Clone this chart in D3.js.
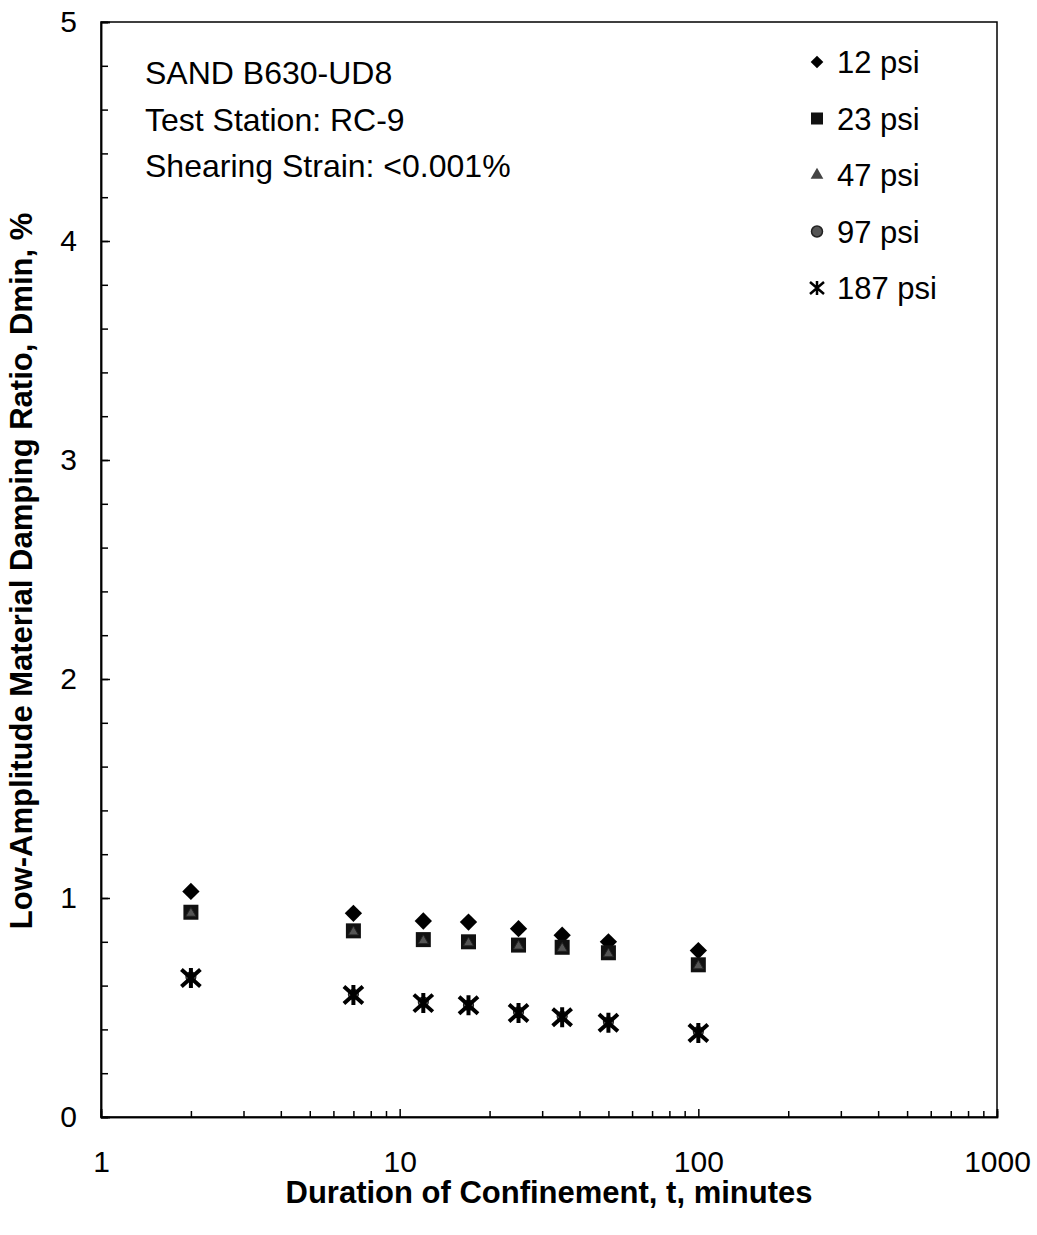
<!DOCTYPE html>
<html>
<head>
<meta charset="utf-8">
<script src="https://cdn.jsdelivr.net/npm/d3@7"></script>
<style>
  body { margin: 0; background: #fff; }
  svg { font-family: "Liberation Sans", Arial, sans-serif; }
</style>
</head>
<body>
<script>
// data
var durations = [2, 7, 12, 17, 25, 35, 50, 100];
var psi12  = [1.03, 0.93, 0.895, 0.89, 0.86, 0.83, 0.80, 0.76];
var psi23  = [0.935, 0.85, 0.81, 0.80, 0.785, 0.775, 0.75, 0.695];
var psi47  = [0.93, 0.845, 0.805, 0.795, 0.78, 0.77, 0.745, 0.69];
var psi97  = [0.64, 0.56, 0.525, 0.51, 0.48, 0.46, 0.435, 0.39];
var psi187 = [0.635, 0.557, 0.52, 0.51, 0.475, 0.456, 0.43, 0.384];
var seriesNames = ["12 psi", "23 psi", "47 psi", "97 psi", "187 psi"];
var xMajor = [1, 10, 100, 1000];
var yMajor = [0, 1, 2, 3, 4, 5];
var notes = ["SAND B630-UD8", "Test Station: RC-9", "Shearing Strain: <0.001%"];

var w = 1037, h = 1235;
var mLeft = 101, mRight = 997, mTop = 22, mBottom = 1117;

var svg = d3.select("body").append("svg").attr("width", w).attr("height", h);

var x = d3.scaleLog().domain([1, 1000]).range([mLeft, mRight]);
var y = d3.scaleLinear().domain([0, 5]).range([mBottom, mTop]);

// minor tick values
var xMinor = [];
[1, 10, 100].forEach(function(d) { for (var k = 2; k <= 9; k++) xMinor.push(d * k); });
var yMinor = d3.range(0, 5.001, 0.2);

// box
svg.append("rect")
  .attr("x", mLeft).attr("y", mTop)
  .attr("width", mRight - mLeft).attr("height", mBottom - mTop)
  .attr("fill", "none").attr("stroke", "#000").attr("stroke-width", 1.5);

// x axis
var gx = svg.append("g").attr("transform", "translate(0," + mBottom + ")");
gx.call(d3.axisBottom(x).tickValues(xMinor).tickSize(-6).tickFormat(""));
gx.append("g").call(d3.axisBottom(x).tickValues(xMajor).tickSize(-8).tickPadding(34)
  .tickFormat(d3.format("d")));
gx.selectAll("text").attr("fill", "#000").style("font-size", "30px");
gx.selectAll("line").attr("stroke", "#000").attr("stroke-width", 1.5);
gx.selectAll(".domain").attr("stroke", "#000").attr("stroke-width", 1.5);

// y axis
var gy = svg.append("g").attr("transform", "translate(" + mLeft + ",0)");
gy.call(d3.axisLeft(y).tickValues(yMinor).tickSize(-7).tickFormat(""));
gy.append("g").call(d3.axisLeft(y).tickValues(yMajor).tickSize(-9).tickPadding(24)
  .tickFormat(d3.format("d")));
gy.selectAll("text").attr("fill", "#000").style("font-size", "30px");
gy.selectAll("line").attr("stroke", "#000").attr("stroke-width", 1.5);
gy.selectAll(".domain").attr("stroke", "#000").attr("stroke-width", 1.5);

// axis titles
svg.append("text")
  .attr("x", (mLeft + mRight) / 2).attr("y", 1203)
  .attr("text-anchor", "middle")
  .style("font-size", "31px").style("font-weight", "bold")
  .text("Duration of Confinement, t, minutes");

svg.append("text")
  .attr("transform", "translate(32," + 571 + ") rotate(-90)")
  .attr("text-anchor", "middle")
  .style("font-size", "31px").style("font-weight", "bold")
  .text("Low-Amplitude Material Damping Ratio, Dmin, %");

// markers
var symDiamond = d3.symbol().type(d3.symbolSquare).size(150);
var star = "M0,-10V10M-9.5,-8.5L9.5,8.5M-9.5,8.5L9.5,-8.5";

function drawMarker(g, kind) {
  if (kind == 0) {
    g.append("path").attr("d", symDiamond()).attr("transform", "rotate(45)").attr("fill", "#000");
  } else if (kind == 1) {
    g.append("rect").attr("x", -7.5).attr("y", -7.5).attr("width", 15).attr("height", 15).attr("fill", "#111");
  } else if (kind == 2) {
    g.append("path").attr("d", d3.symbol().type(d3.symbolTriangle).size(45)()).attr("fill", "#555").attr("stroke", "#222").attr("stroke-width", 1);
  } else if (kind == 3) {
    g.append("circle").attr("r", 5).attr("fill", "#666").attr("stroke", "#222").attr("stroke-width", 1.2);
  } else {
    g.append("path").attr("d", star).attr("fill", "none").attr("stroke", "#000").attr("stroke-width", 4);
  }
}

var allSeries = [psi12, psi23, psi47, psi97, psi187];
allSeries.forEach(function(vals, s) {
  svg.append("g").selectAll("g")
    .data(vals)
    .enter().append("g")
    .attr("transform", function(d, i) { return "translate(" + x(durations[i]) + "," + y(d) + ")"; })
    .each(function() { drawMarker(d3.select(this), s); });
});

// notes
svg.append("g").selectAll("text")
  .data(notes)
  .enter().append("text")
  .attr("x", 145)
  .attr("y", function(d, i) { return 84 + i * 46.5; })
  .style("font-size", "32px")
  .text(function(d) { return d; });

// legend
var legend = svg.append("g").selectAll("g")
  .data(seriesNames)
  .enter().append("g")
  .attr("transform", function(d, i) { return "translate(817," + (62 + i * 56.5) + ")"; });

legend.each(function(d, i) {
  var g = d3.select(this);
  if (i == 0) g.append("path").attr("d", d3.symbol().type(d3.symbolSquare).size(80)()).attr("transform", "rotate(45)").attr("fill", "#000");
  else if (i == 1) g.append("rect").attr("x", -6).attr("y", -6).attr("width", 12).attr("height", 12).attr("fill", "#111");
  else if (i == 2) g.append("path").attr("d", d3.symbol().type(d3.symbolTriangle).size(70)()).attr("fill", "#444");
  else if (i == 3) g.append("circle").attr("r", 5.5).attr("fill", "#555").attr("stroke", "#222").attr("stroke-width", 1.5);
  else g.append("path").attr("d", "M0,-7V7M-7,-6L7,6M-7,6L7,-6").attr("fill", "none").attr("stroke", "#000").attr("stroke-width", 2.5);
});

legend.append("text")
  .attr("x", 20).attr("dy", "0.36em")
  .style("font-size", "31px")
  .text(function(d) { return d; });
</script>
</body>
</html>
